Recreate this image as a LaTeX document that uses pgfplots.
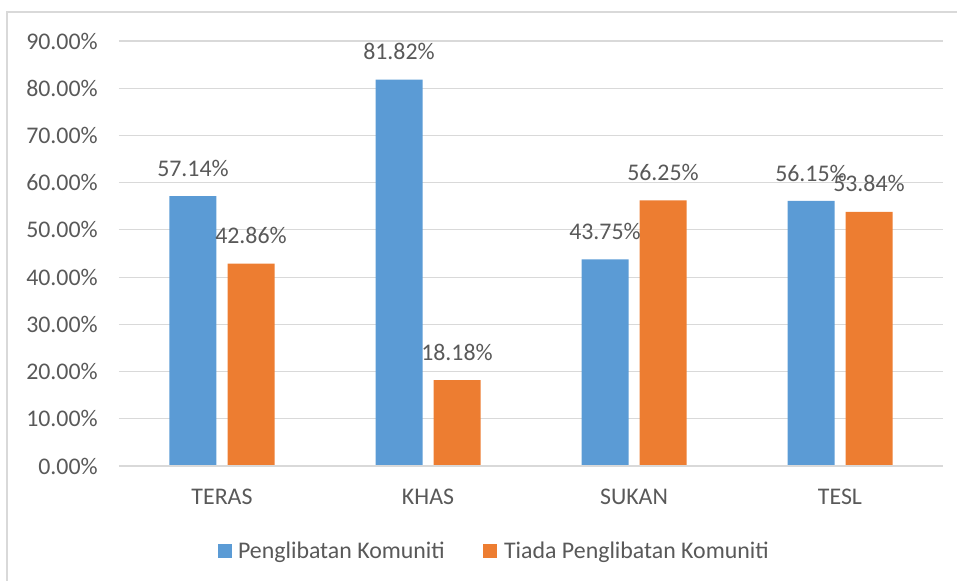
\documentclass[border=0pt]{standalone}
\usepackage{pgfplots}
\pgfplotsset{compat=1.18}
\usepackage{fontspec}
\setmainfont{Carlito}
\definecolor{cblue}{HTML}{5B9BD5}
\definecolor{corange}{HTML}{ED7D31}
\definecolor{ctext}{HTML}{595959}
\definecolor{cgrid}{HTML}{D9D9D9}
\begin{document}
\begin{tikzpicture}[font=\fontsize{17.9}{21}\selectfont]
\path[use as bounding box] (-89.25pt,-86.25pt) rectangle (628.5pt,349.5pt);
\draw[cgrid, line width=1.5pt] (-84pt,-90pt) -- (-84pt,340.5pt) -- (632pt,340.5pt);
\begin{axis}[
  at={(0pt,0pt)}, anchor=south west,
  scale only axis,
  width=618pt, height=318.75pt,
  ybar=8.25pt, bar width=35.25pt,
  xmin=-0.5, xmax=3.5,
  ymin=0, ymax=90,
  xtick=data,
  xticklabels={TERAS,KHAS,SUKAN,TESL},
  ytick={0,10,...,90},
  yticklabel={\pgfmathprintnumber[fixed,fixed zerofill,precision=2]{\tick}\%},
  /pgf/number format/assume math mode=true,
  major tick length=0pt,
  axis line style={draw=none},
  axis x line*=bottom,
  axis y line*=left,
  ymajorgrids,
  grid style={cgrid, line width=0.9pt},
  tick label style={text=ctext},
  yticklabel style={inner sep=0pt, xshift=-15.75pt},
  xticklabel style={inner sep=0pt, yshift=-17pt},
  nodes near coords={\pgfmathprintnumber[fixed,fixed zerofill,precision=2]{\pgfplotspointmeta}\%},
  nodes near coords style={text=ctext, anchor=south, inner sep=0pt, yshift=14.5pt},
  legend style={draw=none, at={(0.456,-0.2)}, anchor=center, legend columns=2,
    /tikz/every even column/.append style={column sep=27pt},
    text=ctext, inner sep=0pt},
  legend image code/.code={\fill[#1] (0pt,-5.25pt) rectangle (10.5pt,5.25pt);},
  clip=false,
]
\addplot[fill=cblue, draw=none] coordinates {(0,57.14) (1,81.82) (2,43.75) (3,56.15)};
\addplot[fill=corange, draw=none] coordinates {(0,42.86) (1,18.18) (2,56.25) (3,53.84)};
\draw[cgrid, line width=1.2pt] (axis cs:-0.5,0) -- (axis cs:3.5,0);
\legend{\hspace{2.5pt}Penglibatan Komuniti, \hspace{3pt}Tiada Penglibatan Komuniti}
\end{axis}
\end{tikzpicture}
\end{document}
